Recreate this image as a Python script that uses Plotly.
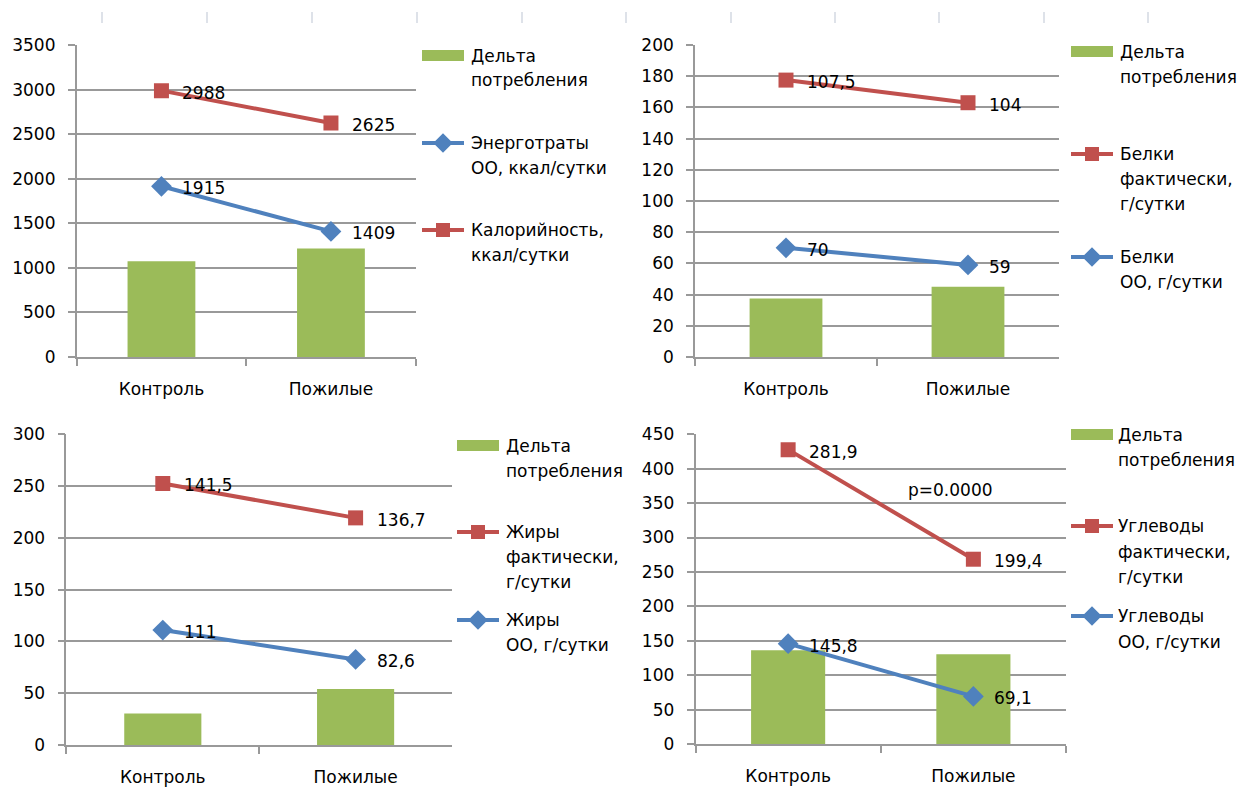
import plotly.graph_objects as go

W, H = 1242, 802

categories = ["Контроль", "Пожилые"]

# Энергия, ккал/сутки
energy_oo = [1915, 1409]
energy_fact = [2988, 2625]
energy_delta = [1073, 1216]

# Белки, г/сутки
protein_oo = [70, 59]
protein_fact = [107.5, 104]
protein_delta = [37.5, 45]

# Жиры, г/сутки
fat_oo = [111, 82.6]
fat_fact = [141.5, 136.7]
fat_delta = [30.5, 54.1]

# Углеводы, г/сутки
carb_oo = [145.8, 69.1]
carb_fact = [281.9, 199.4]
carb_delta = [136.1, 130.3]

delta_label = ["Дельта", "потребления"]

energy_oo_label = ["Энерготраты", "ОО, ккал/сутки"]
energy_fact_label = ["Калорийность,", "ккал/сутки"]
protein_fact_label = ["Белки", "фактически,", "г/сутки"]
protein_oo_label = ["Белки", "ОО, г/сутки"]
fat_fact_label = ["Жиры", "фактически,", "г/сутки"]
fat_oo_label = ["Жиры", "ОО, г/сутки"]
carb_fact_label = ["Углеводы", "фактически,", "г/сутки"]
carb_oo_label = ["Углеводы", "ОО, г/сутки"]

p_value_text = "p=0.0000"

FONT = "DejaVu Sans"
FS = 17
TXT = "#000000"
GRID = "#999999"
GREEN = "#9bbb59"
RED = "#c0504d"
BLUE = "#4f81bd"
LW = 4

# plot areas in pixels: (left, right), (top, bottom); legend column x and line rows
panels = [
    dict(delta=energy_delta, oo=energy_oo, fact=energy_fact, stacked=False,
         ymax=3500, dtick=500, px=(76.7, 415.7), py=(45, 357),
         leg_x=422, text_x=469,
         legend=[("bar", delta_label, [56, 80]),
                 ("oo", energy_oo_label, [143, 168]),
                 ("fact", energy_fact_label, [230, 255])]),
    dict(delta=protein_delta, oo=protein_oo, fact=protein_fact, stacked=True,
         ymax=200, dtick=20, px=(695, 1059), py=(45, 357),
         leg_x=1071, text_x=1118,
         legend=[("bar", delta_label, [52, 77]),
                 ("fact", protein_fact_label, [154, 179, 204]),
                 ("oo", protein_oo_label, [257, 282])]),
    dict(delta=fat_delta, oo=fat_oo, fact=fat_fact, stacked=True,
         ymax=300, dtick=50, px=(66.4, 452), py=(434.3, 745),
         leg_x=457, text_x=504,
         legend=[("bar", delta_label, [446, 471]),
                 ("fact", fat_fact_label, [532, 557, 582]),
                 ("oo", fat_oo_label, [620, 645])]),
    dict(delta=carb_delta, oo=carb_oo, fact=carb_fact, stacked=True,
         ymax=450, dtick=50, px=(695.5, 1066), py=(434.3, 744),
         leg_x=1071, text_x=1116,
         legend=[("bar", delta_label, [435, 460]),
                 ("fact", carb_fact_label, [526, 552, 577]),
                 ("oo", carb_oo_label, [616, 642])]),
]


def fmt(v):
    return f"{v:g}".replace(".", ",")


fig = go.Figure()
annotations = []
shapes = []
layout_axes = {}

for i, p in enumerate(panels, start=1):
    xa, ya = f"x{i}", f"y{i}"
    stack = f"stack{i}" if p["stacked"] else None

    fig.add_trace(go.Bar(
        x=categories, y=p["delta"], width=0.4, marker=dict(color=GREEN, line=dict(width=0)),
        name=" ".join(delta_label), xaxis=xa, yaxis=ya, showlegend=False))

    labels = {kind: lines for kind, lines, _ in p["legend"]}

    fig.add_trace(go.Scatter(
        x=categories, y=p["oo"], mode="lines+markers", name=" ".join(labels["oo"]),
        line=dict(color=BLUE, width=LW),
        marker=dict(symbol="diamond", size=16, color=BLUE),
        stackgroup=stack, fill="none", xaxis=xa, yaxis=ya, showlegend=False))
    fig.add_trace(go.Scatter(
        x=categories, y=p["fact"], mode="lines+markers", name=" ".join(labels["fact"]),
        line=dict(color=RED, width=LW),
        marker=dict(symbol="square", size=15, color=RED),
        stackgroup=stack, fill="none", xaxis=xa, yaxis=ya, showlegend=False))

    # value labels to the right of each point
    if p["stacked"]:
        fact_pos = [a + b for a, b in zip(p["oo"], p["fact"])]
    else:
        fact_pos = list(p["fact"])
    for vals, pos in ((p["oo"], list(p["oo"])), (p["fact"], fact_pos)):
        for c, v, y in zip(categories, vals, pos):
            annotations.append(dict(
                x=c, y=y, xref=xa, yref=ya, text=fmt(v), showarrow=False,
                xanchor="left", yanchor="middle", xshift=19, yshift=-2,
                font=dict(family=FONT, size=FS, color=TXT)))

    (l, r), (t, b) = p["px"], p["py"]
    layout_axes[f"xaxis{i}"] = dict(
        domain=[l / W, r / W], anchor=ya, type="category", range=[-0.5, 1.5],
        automargin=False,
        showgrid=False, zeroline=False, showline=True, linecolor=GRID, linewidth=1.6,
        ticks="outside", tickson="boundaries", ticklen=7, tickwidth=1.6, tickcolor=GRID,
        ticklabelstandoff=16,
        tickfont=dict(family=FONT, size=FS, color=TXT), fixedrange=True)
    layout_axes[f"yaxis{i}"] = dict(
        domain=[1 - b / H, 1 - t / H], anchor=xa, range=[0, p["ymax"]],
        automargin=False,
        dtick=p["dtick"], tick0=0, showgrid=True, gridcolor=GRID, gridwidth=1.6,
        zeroline=False, showline=True, linecolor=GRID, linewidth=1.6,
        ticks="outside", ticklen=7, tickwidth=1.6, tickcolor=GRID,
        ticklabelstandoff=9,
        tickfont=dict(family=FONT, size=FS, color=TXT), fixedrange=True)

    # legend column
    lx, tx = p["leg_x"], p["text_x"]
    for kind, lines, rows in p["legend"]:
        yc = rows[0]
        if kind == "bar":
            shapes.append(dict(type="rect", xref="x5", yref="y5", x0=lx, x1=lx + 42,
                               y0=yc - 6, y1=yc + 5, fillcolor=GREEN, line=dict(width=0)))
        else:
            color = BLUE if kind == "oo" else RED
            shapes.append(dict(type="line", xref="x5", yref="y5", x0=lx, x1=lx + 42,
                               y0=yc, y1=yc, line=dict(color=color, width=LW)))
            fig.add_trace(go.Scatter(
                x=[lx + 21], y=[yc], mode="markers", xaxis="x5", yaxis="y5",
                marker=dict(symbol="diamond" if kind == "oo" else "square",
                            size=15 if kind == "oo" else 14, color=color),
                showlegend=False, hoverinfo="skip"))
        for line, yy in zip(lines, rows):
            annotations.append(dict(
                x=tx, y=yy, xref="x5", yref="y5", text=line, showarrow=False,
                xanchor="left", yanchor="middle",
                font=dict(family=FONT, size=FS, color=TXT)))

# significance note on the carbohydrate panel
annotations.append(dict(
    x=950, y=490, xref="x5", yref="y5", text=p_value_text, showarrow=False,
    xanchor="center", yanchor="middle", font=dict(family=FONT, size=FS, color=TXT)))

# faint worksheet column lines along the top edge
for cx in [102, 207, 312, 417, 522, 626, 731, 835, 939, 1044, 1148]:
    shapes.append(dict(type="line", xref="x5", yref="y5", x0=cx, x1=cx, y0=12, y1=23,
                       line=dict(color="#d3d9e2", width=1.5)))

layout_axes["xaxis5"] = dict(domain=[0, 1], range=[0, W], visible=False, anchor="y5",
                             automargin=False, fixedrange=True)
layout_axes["yaxis5"] = dict(domain=[0, 1], range=[H, 0], visible=False, anchor="x5",
                             automargin=False, fixedrange=True)

fig.update_layout(
    width=W, height=H, margin=dict(l=0, r=0, t=0, b=0, autoexpand=False),
    paper_bgcolor="white", plot_bgcolor="rgba(0,0,0,0)",
    showlegend=False, barmode="overlay",
    annotations=annotations, shapes=shapes,
    font=dict(family=FONT, size=FS, color=TXT),
    **layout_axes)

fig.write_html("out.html")
